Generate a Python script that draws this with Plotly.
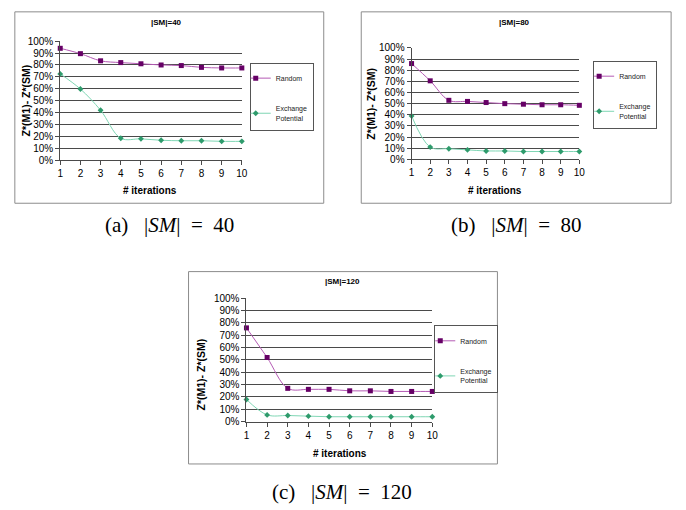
import plotly.graph_objects as go

W, H = 686, 510

iterations = [1, 2, 3, 4, 5, 6, 7, 8, 9, 10]
y_ticks = [0, 0.1, 0.2, 0.3, 0.4, 0.5, 0.6, 0.7, 0.8, 0.9, 1.0]

random_40 = [0.94, 0.895, 0.835, 0.82, 0.81, 0.80, 0.795, 0.78, 0.775, 0.775]
exchange_40 = [0.725, 0.598, 0.42, 0.185, 0.18, 0.168, 0.164, 0.164, 0.159, 0.159]

random_80 = [0.86, 0.705, 0.53, 0.52, 0.51, 0.50, 0.495, 0.49, 0.49, 0.485]
exchange_80 = [0.39, 0.11, 0.095, 0.085, 0.075, 0.075, 0.07, 0.07, 0.07, 0.07]

random_120 = [0.76, 0.52, 0.27, 0.262, 0.262, 0.25, 0.25, 0.245, 0.245, 0.245]
exchange_120 = [0.18, 0.055, 0.05, 0.045, 0.04, 0.04, 0.04, 0.04, 0.04, 0.04]

panel_titles = ["|SM|=40", "|SM|=80", "|SM|=120"]
NB = "\u00a0"
caption_tags = ["(a)", "(b)", "(c)"]
caption_values = ["40", "80", "120"]
captions = [t + NB * 2 + " |<i>SM</i>|" + NB + " =" + NB + " " + v
            for t, v in zip(caption_tags, caption_values)]
series_names = ["Random", "Exchange<br>Potential"]

RAND_LINE = "#b45ab4"
RAND_MARK = "#660066"
EXC_LINE = "#7fd6b4"
EXC_MARK = "#2e9b6c"
FONT = "Liberation Sans, Arial, sans-serif"
GRID = "#4a4a4a"


def px_x(p):
    return p / W


def px_y(p):
    return 1 - p / H


panels = [
    dict(x0=58, x1=242, yt=36, yb=158, frame=(12, 6, 325, 202), leg=(250, 58),
         title=(166, 17), xt=(149, 189), yt_lab=(23, 97), cap=(169, 224)),
    dict(x0=414, x1=584, yt=43, yb=157, frame=(363, 6, 677, 202), leg=(598, 56),
         title=(518, 17), xt=(499, 189), yt_lab=(373, 100), cap=(520, 224)),
    dict(x0=246.7, x1=435, yt=299.3, yb=425.7, frame=(188, 272, 501, 469), leg=(437, 327),
         title=(344, 282), xt=(341, 458), yt_lab=(201, 377), cap=(344, 498)),
]

data = [(random_40, exchange_40), (random_80, exchange_80), (random_120, exchange_120)]

fig = go.Figure()
layout = dict(width=W, height=H, margin=dict(l=0, r=0, t=0, b=0),
              paper_bgcolor="white", plot_bgcolor="white",
              font=dict(family=FONT, color="#000000"), showlegend=True)
shapes = []
annotations = []

for i, (p, (rnd, exc)) in enumerate(zip(panels, data)):
    sfx = "" if i == 0 else str(i + 1)
    xa = "x" + sfx
    ya = "y" + sfx
    leg = "legend" + sfx
    fig.add_trace(go.Scatter(
        x=iterations, y=rnd, name=series_names[0], xaxis=xa, yaxis=ya, legend=leg,
        legendgroup="r" + sfx, mode="lines+markers", line=dict(color=RAND_LINE, width=1, shape="spline"),
        marker=dict(symbol="square", size=5, color=RAND_MARK), cliponaxis=False))
    fig.add_trace(go.Scatter(
        x=iterations, y=exc, name=series_names[1], xaxis=xa, yaxis=ya, legend=leg,
        legendgroup="e" + sfx, mode="lines+markers", line=dict(color=EXC_LINE, width=1, shape="spline"),
        marker=dict(symbol="diamond", size=4.5, color=EXC_MARK), cliponaxis=False))

    layout["xaxis" + sfx] = dict(
        domain=[px_x(p["x0"]), px_x(p["x1"])], anchor=ya, range=[1, 10],
        tickvals=iterations, ticks="outside", ticklen=4, tickcolor=GRID,
        showgrid=False, zeroline=False, showline=True, linecolor=GRID, linewidth=1,
        tickfont=dict(size=10, family=FONT), fixedrange=True)
    layout["yaxis" + sfx] = dict(
        domain=[px_y(p["yb"]), px_y(p["yt"])], anchor=xa, range=[0, 1],
        tickvals=y_ticks, tickformat=".0%", ticks="outside", ticklen=4, tickcolor=GRID,
        showgrid=True, gridcolor=GRID, gridwidth=1, zeroline=False,
        showline=True, linecolor=GRID, linewidth=1,
        tickfont=dict(size=10, family=FONT), fixedrange=True)
    layout[leg] = dict(
        x=px_x(p["leg"][0]), y=px_y(p["leg"][1]), xanchor="left", yanchor="top",
        bgcolor="white", bordercolor="#555555", borderwidth=1,
        font=dict(size=7, family=FONT, color="#222222"), tracegroupgap=15,
        itemwidth=30, indentation=-15)

    fx0, fy0, fx1, fy1 = p["frame"]
    shapes.append(dict(type="rect", xref="paper", yref="paper",
                       x0=px_x(fx0), x1=px_x(fx1), y0=px_y(fy1), y1=px_y(fy0),
                       line=dict(color="#8c8c8c", width=1), layer="below"))

    annotations.append(dict(text="<b>%s</b>" % panel_titles[i], xref="paper", yref="paper",
                            x=px_x(p["title"][0]), y=px_y(p["title"][1]), showarrow=False,
                            font=dict(size=8, family=FONT), xanchor="center", yanchor="middle"))
    annotations.append(dict(text="<b># iterations</b>", xref="paper", yref="paper",
                            x=px_x(p["xt"][0]), y=px_y(p["xt"][1]), showarrow=False,
                            font=dict(size=10, family=FONT), xanchor="center", yanchor="middle"))
    annotations.append(dict(text="<b>Z*(M1)- Z*(SM)</b>", xref="paper", yref="paper",
                            x=px_x(p["yt_lab"][0]), y=px_y(p["yt_lab"][1]), showarrow=False,
                            textangle=-90, font=dict(size=10.5, family=FONT),
                            xanchor="center", yanchor="middle"))
    annotations.append(dict(text=captions[i], xref="paper", yref="paper",
                            x=px_x(p["cap"][0]), y=px_y(p["cap"][1]), showarrow=False,
                            font=dict(size=21, family="Liberation Serif, Times New Roman, serif"),
                            xanchor="center", yanchor="middle"))

layout["shapes"] = shapes
layout["annotations"] = annotations
fig.update_layout(**layout)

fig.write_html("out.html", config={"displayModeBar": False},
               post_script="document.body.style.margin='0';document.body.style.overflow='hidden';")
